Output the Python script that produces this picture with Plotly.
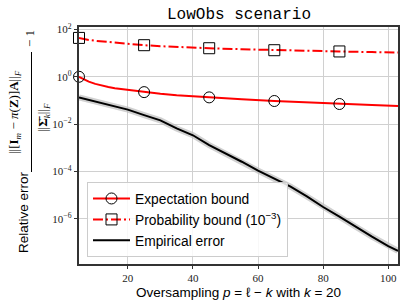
import plotly.graph_objects as go

# ---------------- data ----------------
p_line = [5, 6, 7, 8, 10, 12, 14, 16, 19, 22, 25, 30, 35, 40, 45, 55, 65, 75, 85, 95, 103]
expectation = [1.0, 0.85, 0.72, 0.62, 0.50, 0.42, 0.37, 0.33, 0.29, 0.255, 0.225,
               0.192, 0.166, 0.149, 0.135, 0.112, 0.095, 0.082, 0.071, 0.064, 0.059]
probability = [43.6, 40.5, 38, 36, 33, 31, 29.2, 27.6, 25.5, 23.4, 21.5,
               19.5, 18, 17, 16, 14.5, 13.2, 12.4, 11.7, 11.0, 10.5]

marker_p = [5, 25, 45, 65, 85]
expectation_mk = [1.0, 0.225, 0.135, 0.095, 0.071]
probability_mk = [43.6, 21.5, 16, 13.2, 11.7]

p_emp = [5, 10, 15, 20, 25, 30, 35, 40, 45, 50, 55, 60, 65, 70, 75, 80,
         85, 90, 95, 100, 103]
empirical = [0.135, 0.092, 0.063, 0.041, 0.024, 0.0145, 0.0066, 0.0034,
             0.0013, 6.0e-4, 2.6e-4, 1.1e-4, 5.0e-5, 2.3e-5, 8.9e-6, 3.2e-6,
             1.26e-6, 4.7e-7, 1.8e-7, 7.2e-8, 4.5e-8]

x_ticks = [20, 40, 60, 80, 100]
y_ticks = [1e-6, 1e-4, 1e-2, 1e0, 1e2]
y_ticktext = ["10<sup>−6</sup>", "10<sup>−4</sup>", "10<sup>−2</sup>",
              "10<sup>0</sup>", "10<sup>2</sup>"]

legend_names = ["Expectation bound", "Probability bound (10<sup>−3</sup>)",
                "Empirical error"]

# ---------------- figure ----------------
W, H = 409, 306
L, R, T, B = 79, 11, 27, 42
SANS = "Liberation Sans"
SERIF = "Liberation Serif"
DASHDOT = "10px,3px,2px,3px"

fig = go.Figure()

# empirical: light band under line
fig.add_trace(go.Scatter(x=p_emp, y=empirical, mode="lines",
                         line=dict(color="rgba(190,190,190,0.7)", width=6),
                         showlegend=False, hoverinfo="skip"))
fig.add_trace(go.Scatter(x=p_emp, y=empirical, mode="lines",
                         line=dict(color="black", width=2),
                         showlegend=False))
fig.add_trace(go.Scatter(x=p_line, y=expectation, mode="lines",
                         line=dict(color="red", width=2),
                         showlegend=False))
fig.add_trace(go.Scatter(x=p_line, y=probability, mode="lines",
                         line=dict(color="red", width=2, dash=DASHDOT),
                         showlegend=False))
fig.add_trace(go.Scatter(x=marker_p, y=expectation_mk, mode="markers",
                         marker=dict(symbol="circle-open", size=11,
                                     color="black", line=dict(width=1)),
                         cliponaxis=False, showlegend=False))
fig.add_trace(go.Scatter(x=marker_p, y=probability_mk, mode="markers",
                         marker=dict(symbol="square-open", size=11,
                                     color="black", line=dict(width=1)),
                         cliponaxis=False, showlegend=False))

# legend entries
fig.add_trace(go.Scatter(x=[None], y=[None], mode="lines+markers",
                         name=legend_names[0],
                         line=dict(color="red", width=2),
                         marker=dict(symbol="circle-open", size=11,
                                     color="black", line=dict(width=1))))
fig.add_trace(go.Scatter(x=[None], y=[None], mode="lines+markers",
                         name=legend_names[1],
                         line=dict(color="red", width=2, dash=DASHDOT),
                         marker=dict(symbol="square-open", size=11,
                                     color="black", line=dict(width=1))))
fig.add_trace(go.Scatter(x=[None], y=[None], mode="lines",
                         name=legend_names[2],
                         line=dict(color="black", width=2)))

pw = W - L - R
ph = H - T - B


def px(x):
    return (x - L) / pw


def py(y):
    return (H - B - y) / ph


def ann(text, x, y, font, angle=0):
    return dict(text=text, x=px(x), y=py(y), xref="paper", yref="paper",
                xanchor="center", yanchor="middle", showarrow=False,
                textangle=angle, font=font)


f_serif = dict(family=SERIF, size=13, color="black")
annotations = [
    ann("LowObs scenario", 238.5, 15,
        dict(family="Liberation Mono", size=16, color="black")),
    ann("Relative error", 23, 212,
        dict(family=SANS, size=13.5, color="black"), -90),
    ann("||[<b>I</b><sub><i>m</i></sub> − <i>π</i>(<b>Z</b>)]<b>A</b>||<sub><i>F</i></sub>",
        15, 112, f_serif, -90),
    ann("||<b>Σ̄</b><sub><i>k</i></sub>||<sub><i>F</i></sub>", 43, 118,
        f_serif, -90),
    ann("− 1", 29, 38, f_serif, -90),
    ann("Oversampling <i>p</i> = ℓ − <i>k</i> with <i>k</i> = 20", 238.5, 292,
        dict(family=SANS, size=13.5, color="black")),
]

shapes = [dict(type="line", xref="paper", yref="paper",
               x0=px(31.5), x1=px(31.5), y0=py(52), y1=py(172),
               line=dict(color="black", width=1))]

fig.update_layout(
    width=W, height=H,
    margin=dict(l=L, r=R, t=T, b=B, pad=0, autoexpand=False),
    paper_bgcolor="white", plot_bgcolor="white",
    annotations=annotations, shapes=shapes,
    showlegend=True,
    legend=dict(x=px(87), y=py(257), xanchor="left", yanchor="bottom",
                bgcolor="rgba(255,255,255,0.85)", bordercolor="#cccccc",
                borderwidth=1, font=dict(family=SANS, size=13.8,
                                         color="black"),
                itemwidth=37),
    xaxis=dict(range=[5, 103], tickvals=x_ticks,
               ticktext=[str(v) for v in x_ticks], automargin=False,
               showgrid=True, gridcolor="#d0d0d0", gridwidth=1,
               zeroline=False, showline=True, linecolor="#333333",
               linewidth=1.5, mirror=True, ticks="outside", ticklen=3.5,
               tickcolor="#333333",
               tickfont=dict(family=SERIF, size=11, color="#222222")),
    yaxis=dict(type="log", range=[-7.9, 2.1], tickvals=y_ticks,
               ticktext=y_ticktext, automargin=False,
               showgrid=True, gridcolor="#d0d0d0", gridwidth=1,
               zeroline=False, showline=True, linecolor="#333333",
               linewidth=1.5, mirror=True, ticks="outside", ticklen=3.5,
               tickcolor="#333333",
               tickfont=dict(family=SERIF, size=11, color="#222222")),
)

fig.write_html("out.html",
               config={"displayModeBar": False},
               post_script="document.body.style.margin='0';"
                           "document.body.style.overflow='hidden';")
